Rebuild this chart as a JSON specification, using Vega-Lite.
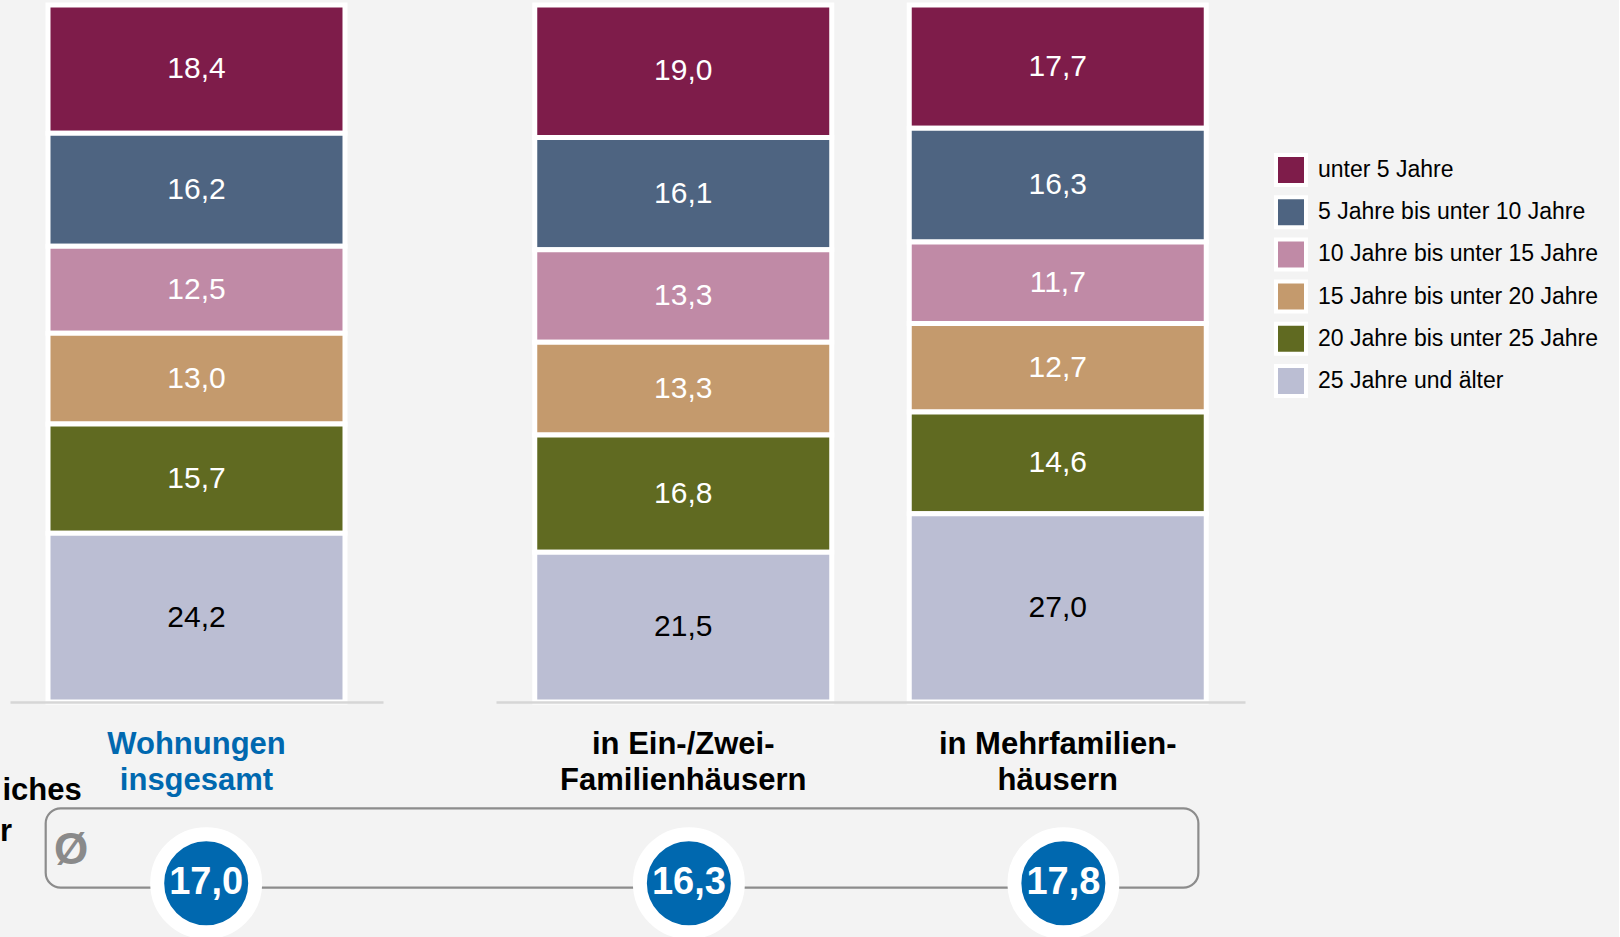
{
  "$schema": "https://vega.github.io/schema/vega-lite/v6.json",
  "background": "#F3F3F3",
  "padding": {"left": 0, "top": 2, "right": 20, "bottom": 0},
  "bounds": "flush",
  "spacing": 113,
  "config": {
    "locale": {"number": {"decimal": ",", "thousands": ".", "grouping": [3], "currency": ["", " €"]}},
    "view": {"stroke": null},
    "font": "Liberation Sans"
  },
  "datasets": {
    "anteile": [
      {"Kategorie": "Wohnungen insgesamt", "Alter": "unter 5 Jahre", "von": 0, "Anteil": 18.4},
      {"Kategorie": "Wohnungen insgesamt", "Alter": "5 Jahre bis unter 10 Jahre", "von": 5, "Anteil": 16.2},
      {"Kategorie": "Wohnungen insgesamt", "Alter": "10 Jahre bis unter 15 Jahre", "von": 10, "Anteil": 12.5},
      {"Kategorie": "Wohnungen insgesamt", "Alter": "15 Jahre bis unter 20 Jahre", "von": 15, "Anteil": 13.0},
      {"Kategorie": "Wohnungen insgesamt", "Alter": "20 Jahre bis unter 25 Jahre", "von": 20, "Anteil": 15.7},
      {"Kategorie": "Wohnungen insgesamt", "Alter": "25 Jahre und älter", "von": 25, "Anteil": 24.2},
      {"Kategorie": "in Ein-/Zwei-Familienhäusern", "Alter": "unter 5 Jahre", "von": 0, "Anteil": 19.0},
      {"Kategorie": "in Ein-/Zwei-Familienhäusern", "Alter": "5 Jahre bis unter 10 Jahre", "von": 5, "Anteil": 16.1},
      {"Kategorie": "in Ein-/Zwei-Familienhäusern", "Alter": "10 Jahre bis unter 15 Jahre", "von": 10, "Anteil": 13.3},
      {"Kategorie": "in Ein-/Zwei-Familienhäusern", "Alter": "15 Jahre bis unter 20 Jahre", "von": 15, "Anteil": 13.3},
      {"Kategorie": "in Ein-/Zwei-Familienhäusern", "Alter": "20 Jahre bis unter 25 Jahre", "von": 20, "Anteil": 16.8},
      {"Kategorie": "in Ein-/Zwei-Familienhäusern", "Alter": "25 Jahre und älter", "von": 25, "Anteil": 21.5},
      {"Kategorie": "in Mehrfamilienhäusern", "Alter": "unter 5 Jahre", "von": 0, "Anteil": 17.7},
      {"Kategorie": "in Mehrfamilienhäusern", "Alter": "5 Jahre bis unter 10 Jahre", "von": 5, "Anteil": 16.3},
      {"Kategorie": "in Mehrfamilienhäusern", "Alter": "10 Jahre bis unter 15 Jahre", "von": 10, "Anteil": 11.7},
      {"Kategorie": "in Mehrfamilienhäusern", "Alter": "15 Jahre bis unter 20 Jahre", "von": 15, "Anteil": 12.7},
      {"Kategorie": "in Mehrfamilienhäusern", "Alter": "20 Jahre bis unter 25 Jahre", "von": 20, "Anteil": 14.6},
      {"Kategorie": "in Mehrfamilienhäusern", "Alter": "25 Jahre und älter", "von": 25, "Anteil": 27.0}
    ],
    "durchschnitt": [
      {"Kategorie": "Wohnungen insgesamt", "Jahre": 17.0},
      {"Kategorie": "in Ein-/Zwei-Familienhäusern", "Jahre": 16.3},
      {"Kategorie": "in Mehrfamilienhäusern", "Jahre": 17.8}
    ]
  },
  "hconcat": [
    {
      "width": 373,
      "height": 697,
      "layer": [
        {
          "data": {"name": "anteile"},
          "transform": [{"filter": "datum.Kategorie == 'Wohnungen insgesamt'"}],
          "mark": {"type": "bar", "width": 297, "stroke": "white", "strokeWidth": 5},
          "encoding": {
            "x": {"field": "Kategorie", "type": "nominal", "scale": {"paddingInner": 0, "paddingOuter": 0},
              "axis": {"title": null, "labelAngle": 0, "ticks": false, "tickSize": 0, "domainColor": "#D6D6D6", "domainWidth": 2.5, "labelFontSize": 31, "labelFontWeight": "bold", "labelLineHeight": 36, "labelBaseline": "top", "labelPadding": 27, "labelColor": "#0068AF", "labelFont": "Liberation Sans", "labelLimit": 1000, "labelOverlap": false, "labelFlush": false, "zindex": 1,
                "labelExpr": "['Wohnungen', 'insgesamt']"}},
            "y": {"field": "Anteil", "type": "quantitative", "stack": "zero", "scale": {"domain": [0, 100], "nice": false, "zero": false}, "axis": null},
            "order": {"field": "von", "type": "quantitative", "sort": "descending"},
            "color": {"field": "Alter", "type": "nominal",
              "sort": ["unter 5 Jahre", "5 Jahre bis unter 10 Jahre", "10 Jahre bis unter 15 Jahre", "15 Jahre bis unter 20 Jahre", "20 Jahre bis unter 25 Jahre", "25 Jahre und älter"],
              "scale": {"domain": ["unter 5 Jahre", "5 Jahre bis unter 10 Jahre", "10 Jahre bis unter 15 Jahre", "15 Jahre bis unter 20 Jahre", "20 Jahre bis unter 25 Jahre", "25 Jahre und älter"], "range": ["#7E1C4A", "#4E6481", "#C08AA6", "#C49A6D", "#606A21", "#BBBED3"]},
              "legend": {"orient": "none", "legendX": 1264, "legendY": 148, "title": null, "symbolType": "square", "symbolSize": 900, "symbolStrokeColor": "white", "symbolStrokeWidth": 4, "symbolOpacity": 1, "labelFontSize": 23, "labelFont": "Liberation Sans", "labelColor": "black", "rowPadding": -3.8, "labelOffset": 10, "padding": 0, "labelLimit": 400}
            }
          }
        },
        {
          "data": {"name": "anteile"},
          "transform": [{"filter": "datum.Kategorie == 'Wohnungen insgesamt'"}],
          "mark": {"type": "text", "fontSize": 30, "baseline": "middle", "font": "Liberation Sans"},
          "encoding": {
            "x": {"field": "Kategorie", "type": "nominal"},
            "y": {"field": "Anteil", "type": "quantitative", "stack": "zero", "bandPosition": 0.5, "scale": {"domain": [0, 100], "nice": false, "zero": false}},
            "order": {"field": "von", "type": "quantitative", "sort": "descending"},
            "fill": {"field": "Alter", "type": "nominal",
              "scale": {"domain": ["unter 5 Jahre", "5 Jahre bis unter 10 Jahre", "10 Jahre bis unter 15 Jahre", "15 Jahre bis unter 20 Jahre", "20 Jahre bis unter 25 Jahre", "25 Jahre und älter"], "range": ["#FFFFFF", "#FFFFFF", "#FFFFFF", "#FFFFFF", "#FFFFFF", "#000000"]},
              "legend": null},
            "text": {"field": "Anteil", "type": "quantitative", "format": ".1f"}
          }
        },
        {
          "data": {"name": "durchschnitt"},
          "transform": [{"filter": "datum.Kategorie == 'Wohnungen insgesamt'"}],
          "mark": {"type": "rect", "filled": false, "stroke": "#8C8C8C", "strokeWidth": 2.2, "cornerRadius": 15},
          "encoding": {
            "x": {"datum": "Wohnungen insgesamt", "bandPosition": 0.0957},
            "x2": {"datum": "Wohnungen insgesamt", "bandPosition": 3.186},
            "y": {"datum": -15.25, "scale": {"domain": [0, 100], "nice": false, "zero": false}},
            "y2": {"datum": -26.64}
          }
        },
        {
          "data": {"name": "durchschnitt"},
          "transform": [{"filter": "datum.Kategorie == 'Wohnungen insgesamt'"}],
          "mark": {"type": "text", "text": "Ø", "fontSize": 44, "fontWeight": "bold", "color": "#8A8A8A", "baseline": "middle", "align": "center"},
          "encoding": {
            "x": {"datum": "Wohnungen insgesamt", "bandPosition": 0.1635},
            "y": {"datum": -21.33, "scale": {"domain": [0, 100], "nice": false, "zero": false}}
          }
        },
        {
          "data": {"name": "durchschnitt"},
          "transform": [{"filter": "datum.Kategorie == 'Wohnungen insgesamt'"}],
          "mark": {"type": "text", "text": "Durchschnittliches", "fontSize": 31, "fontWeight": "bold", "color": "#000000", "baseline": "alphabetic", "align": "right", "dir": "rtl", "limit": 82, "ellipsis": "\u200B"},
          "encoding": {
            "x": {"datum": "Wohnungen insgesamt", "bandPosition": 0.1922},
            "y": {"datum": -14.09, "scale": {"domain": [0, 100], "nice": false, "zero": false}}
          }
        },
        {
          "data": {"name": "durchschnitt"},
          "transform": [{"filter": "datum.Kategorie == 'Wohnungen insgesamt'"}],
          "mark": {"type": "text", "text": "Alter der", "fontSize": 31, "fontWeight": "bold", "color": "#000000", "baseline": "alphabetic", "align": "right", "dir": "rtl", "limit": 13, "ellipsis": "\u200B"},
          "encoding": {
            "x": {"datum": "Wohnungen insgesamt", "bandPosition": 0.0056},
            "y": {"datum": -19.97, "scale": {"domain": [0, 100], "nice": false, "zero": false}}
          }
        },
        {
          "data": {"name": "durchschnitt"},
          "transform": [{"filter": "datum.Kategorie == 'Wohnungen insgesamt'"}],
          "mark": {"type": "point", "shape": "circle", "filled": true, "fill": "#0068AF", "stroke": "white", "strokeWidth": 14, "size": 9604, "opacity": 1, "fillOpacity": 1, "strokeOpacity": 1},
          "encoding": {
            "x": {"field": "Kategorie", "type": "nominal", "bandPosition": 0.526},
            "y": {"datum": -26.0, "scale": {"domain": [0, 100], "nice": false, "zero": false}}
          }
        },
        {
          "data": {"name": "durchschnitt"},
          "transform": [{"filter": "datum.Kategorie == 'Wohnungen insgesamt'"}],
          "mark": {"type": "text", "fontSize": 38, "fontWeight": "bold", "color": "white", "baseline": "middle", "align": "center"},
          "encoding": {
            "x": {"field": "Kategorie", "type": "nominal", "bandPosition": 0.526},
            "y": {"datum": -26.0, "scale": {"domain": [0, 100], "nice": false, "zero": false}},
            "text": {"field": "Jahre", "type": "quantitative", "format": ".1f"}
          }
        }
      ]
    },
    {
      "width": 749,
      "height": 697,
      "layer": [
        {
          "data": {"name": "anteile"},
          "transform": [{"filter": "datum.Kategorie != 'Wohnungen insgesamt'"}],
          "mark": {"type": "bar", "width": 297, "stroke": "white", "strokeWidth": 5},
          "encoding": {
            "x": {"field": "Kategorie", "type": "nominal", "sort": ["in Ein-/Zwei-Familienhäusern", "in Mehrfamilienhäusern"], "scale": {"paddingInner": 0, "paddingOuter": 0},
              "axis": {"title": null, "labelAngle": 0, "ticks": false, "tickSize": 0, "domainColor": "#D6D6D6", "domainWidth": 2.5, "labelFontSize": 31, "labelFontWeight": "bold", "labelLineHeight": 36, "labelBaseline": "top", "labelPadding": 27, "labelColor": "#000000", "labelFont": "Liberation Sans", "labelLimit": 1000, "labelOverlap": false, "labelFlush": false, "zindex": 1,
                "labelExpr": "datum.value == 'in Ein-/Zwei-Familienhäusern' ? ['in Ein-/Zwei-', 'Familienhäusern'] : ['in Mehrfamilien-', 'häusern']"}},
            "y": {"field": "Anteil", "type": "quantitative", "stack": "zero", "scale": {"domain": [0, 100], "nice": false, "zero": false}, "axis": null},
            "order": {"field": "von", "type": "quantitative", "sort": "descending"},
            "color": {"field": "Alter", "type": "nominal",
              "sort": ["unter 5 Jahre", "5 Jahre bis unter 10 Jahre", "10 Jahre bis unter 15 Jahre", "15 Jahre bis unter 20 Jahre", "20 Jahre bis unter 25 Jahre", "25 Jahre und älter"],
              "scale": {"domain": ["unter 5 Jahre", "5 Jahre bis unter 10 Jahre", "10 Jahre bis unter 15 Jahre", "15 Jahre bis unter 20 Jahre", "20 Jahre bis unter 25 Jahre", "25 Jahre und älter"], "range": ["#7E1C4A", "#4E6481", "#C08AA6", "#C49A6D", "#606A21", "#BBBED3"]}
            }
          }
        },
        {
          "data": {"name": "anteile"},
          "transform": [{"filter": "datum.Kategorie != 'Wohnungen insgesamt'"}],
          "mark": {"type": "text", "fontSize": 30, "baseline": "middle", "font": "Liberation Sans"},
          "encoding": {
            "x": {"field": "Kategorie", "type": "nominal", "sort": ["in Ein-/Zwei-Familienhäusern", "in Mehrfamilienhäusern"]},
            "y": {"field": "Anteil", "type": "quantitative", "stack": "zero", "bandPosition": 0.5, "scale": {"domain": [0, 100], "nice": false, "zero": false}},
            "order": {"field": "von", "type": "quantitative", "sort": "descending"},
            "fill": {"field": "Alter", "type": "nominal",
              "scale": {"domain": ["unter 5 Jahre", "5 Jahre bis unter 10 Jahre", "10 Jahre bis unter 15 Jahre", "15 Jahre bis unter 20 Jahre", "20 Jahre bis unter 25 Jahre", "25 Jahre und älter"], "range": ["#FFFFFF", "#FFFFFF", "#FFFFFF", "#FFFFFF", "#FFFFFF", "#000000"]},
              "legend": null},
            "text": {"field": "Anteil", "type": "quantitative", "format": ".1f"}
          }
        },
        {
          "data": {"name": "durchschnitt"},
          "transform": [{"filter": "datum.Kategorie != 'Wohnungen insgesamt'"}],
          "mark": {"type": "point", "shape": "circle", "filled": true, "fill": "#0068AF", "stroke": "white", "strokeWidth": 14, "size": 9604, "opacity": 1, "fillOpacity": 1, "strokeOpacity": 1},
          "encoding": {
            "x": {"field": "Kategorie", "type": "nominal", "sort": ["in Ein-/Zwei-Familienhäusern", "in Mehrfamilienhäusern"], "bandPosition": 0.515},
            "y": {"datum": -26.0, "scale": {"domain": [0, 100], "nice": false, "zero": false}}
          }
        },
        {
          "data": {"name": "durchschnitt"},
          "transform": [{"filter": "datum.Kategorie != 'Wohnungen insgesamt'"}],
          "mark": {"type": "text", "fontSize": 38, "fontWeight": "bold", "color": "white", "baseline": "middle", "align": "center"},
          "encoding": {
            "x": {"field": "Kategorie", "type": "nominal", "sort": ["in Ein-/Zwei-Familienhäusern", "in Mehrfamilienhäusern"], "bandPosition": 0.515},
            "y": {"datum": -26.0, "scale": {"domain": [0, 100], "nice": false, "zero": false}},
            "text": {"field": "Jahre", "type": "quantitative", "format": ".1f"}
          }
        }
      ]
    }
  ]
}
